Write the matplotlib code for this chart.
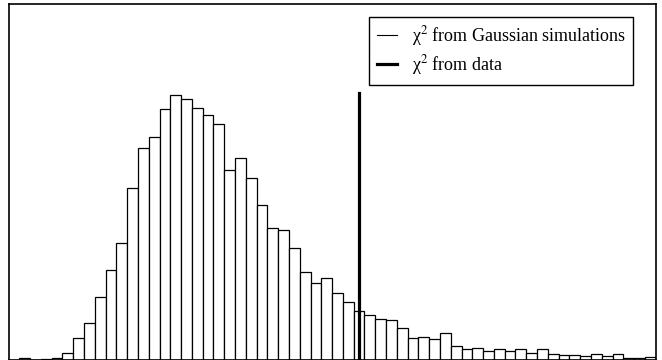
import numpy as np
import matplotlib
matplotlib.use("Agg")
import matplotlib.pyplot as plt

plt.rcParams['font.family'] = ['Liberation Serif', 'DejaVu Serif']
plt.rcParams['mathtext.fontset'] = 'stix'

# histogram of chi^2 from Gaussian simulations (60 bins)
bin_edges = np.arange(0, 61)
counts = [0, 6, 0, 4, 6, 31, 109, 181, 314, 448,
          585, 856, 1056, 1114, 1254, 1321, 1301, 1256, 1223, 1179,
          946, 1008, 909, 774, 658, 649, 556, 439, 384, 409,
          334, 288, 241, 221, 201, 196, 159, 106, 114, 104,
          131, 68, 53, 59, 44, 51, 41, 51, 33, 51,
          29, 24, 21, 19, 29, 16, 29, 6, 8, 14]

# chi^2 from data
chi2_data = 32.5
chi2_data_height = 1334
y_top = 1776

fig = plt.figure(figsize=(6.62, 3.60), dpi=100)
ax = fig.add_axes([8.5 / 662, 0.5 / 360, 647.2 / 662, 355.2 / 360])

ax.bar(bin_edges[:-1], counts, width=1, align='edge', facecolor='white',
       edgecolor='black', linewidth=0.9)
ax.plot([], [], color='black', linewidth=0.8, label='χ$^2$ from Gaussian simulations')
ax.plot([chi2_data, chi2_data], [0, chi2_data_height], color='black', linewidth=2.3,
        label='χ$^2$ from data')

ax.set_xlim(bin_edges[0], bin_edges[-1])
ax.set_ylim(0, y_top)
ax.set_xticks([])
ax.set_yticks([])
for s in ax.spines.values():
    s.set_linewidth(1.2)

leg = ax.legend(loc='upper right', bbox_to_anchor=(633.3 / 662, 1 - 16.7 / 360),
                bbox_transform=fig.transFigure, borderaxespad=0, fontsize=13,
                fancybox=False, framealpha=1, edgecolor='black',
                handlelength=1.1, handletextpad=0.85, labelspacing=0.3,
                borderpad=0.4)
leg.get_frame().set_linewidth(1.0)

fig.savefig("out.png", dpi=100)
